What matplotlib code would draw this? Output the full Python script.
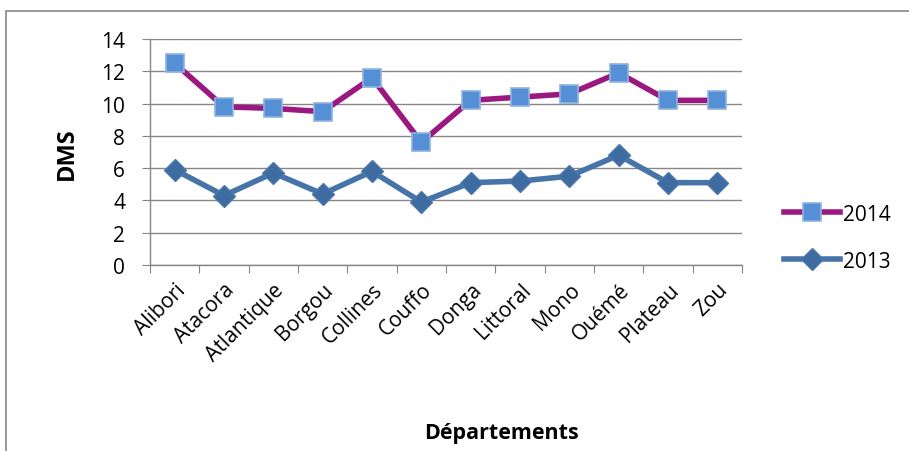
import matplotlib
matplotlib.use("Agg")
import matplotlib.pyplot as plt
from matplotlib.patches import Rectangle
from matplotlib.lines import Line2D

categories = ["Alibori", "Atacora", "Atlantique", "Borgou", "Collines", "Couffo",
              "Donga", "Littoral", "Mono", "Ouémé", "Plateau", "Zou"]
v2014 = [12.5, 9.8, 9.7, 9.5, 11.6, 7.6, 10.2, 10.4, 10.6, 11.9, 10.2, 10.2]
v2013 = [5.9, 4.3, 5.7, 4.4, 5.8, 3.9, 5.1, 5.2, 5.5, 6.8, 5.1, 5.1]
yticks = [0, 2, 4, 6, 8, 10, 12, 14]

plt.rcParams['font.family'] = ['Open Sans', 'DejaVu Sans']

W, H = 909, 452
fig = plt.figure(figsize=(W / 100, H / 100), dpi=100)
fig.patches.append(Rectangle((6 / W, -0.1), 1.2, (H - 12) / H + 0.1, transform=fig.transFigure,
                             fill=False, edgecolor="#888888", linewidth=1.2))

ax = fig.add_axes([150 / W, 1 - 266 / H, (742 - 150) / W, (266 - 40) / H])
x = list(range(len(categories)))

grid = "#868686"
ax.set_ylim(0, 14)
ax.set_xlim(-0.5, len(categories) - 0.5)
ax.set_yticks(yticks)
ax.set_yticklabels([str(t) for t in yticks], fontsize=15)
ax.yaxis.grid(True, color=grid, linewidth=1)
ax.set_axisbelow(True)
for s in ["top", "right"]:
    ax.spines[s].set_visible(False)
for s in ["left", "bottom"]:
    ax.spines[s].set_color(grid)
    ax.spines[s].set_linewidth(1)
ax.tick_params(axis="y", length=6, color=grid, pad=12)

# category ticks between categories, labels at centers
ax.set_xticks([i - 0.5 for i in range(len(categories) + 1)])
ax.set_xticklabels([])
ax.set_xticks(x, minor=True)
ax.set_xticklabels(categories, minor=True, rotation=45, ha="right", rotation_mode="anchor",
                   fontsize=15)
ax.tick_params(axis="x", which="major", length=6, color=grid)
ax.tick_params(axis="x", which="minor", length=0, pad=10)

l13, = ax.plot(x, v2013, color="#4673A8", linewidth=4, marker="D", markersize=11,
               markerfacecolor="#3F6CA0", markeredgecolor="#4A78AE", markeredgewidth=1, zorder=3)
l14, = ax.plot(x, v2014, color="#9C1881", linewidth=4, marker="s", markersize=13.5,
               markerfacecolor="#5590D6", markeredgecolor="#8FB2DE", markeredgewidth=1.2, zorder=4)

ax.set_xlabel("Départements", fontsize=15.5, fontweight="bold")
ax.xaxis.set_label_coords((501 - 150) / (742 - 150), -(423 - 266) / (266 - 40))
ax.set_ylabel("DMS", fontsize=17, fontweight="bold")
ax.yaxis.set_label_coords(-(150 - 79) / (742 - 150), (266 - 154) / (266 - 40))

h14 = Line2D([], [], color="#9C1881", linewidth=4, marker="s", markersize=13.5,
             markerfacecolor="#5590D6", markeredgecolor="#8FB2DE", markeredgewidth=1.2)
h13 = Line2D([], [], color="#4673A8", linewidth=4, marker="D", markersize=11,
             markerfacecolor="#3F6CA0", markeredgecolor="#4A78AE")
fig.legend([h14, h13], ["2014", "2013"], loc="upper left",
           bbox_to_anchor=(765 / W, 1 - 186 / H), frameon=False, fontsize=15,
           handlelength=2.7, labelspacing=1.25, handletextpad=0.15)

fig.savefig("out.png", dpi=100)
